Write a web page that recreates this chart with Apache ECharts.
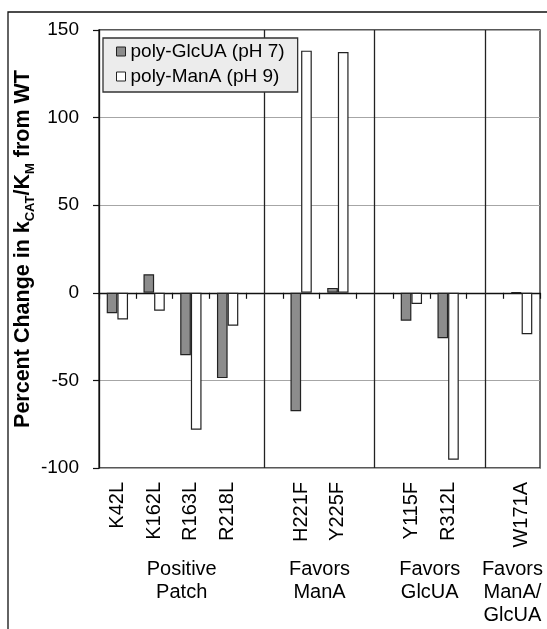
<!DOCTYPE html>
<html><head><meta charset="utf-8">
<script src="https://cdn.jsdelivr.net/npm/echarts@6/dist/echarts.min.js"></script>
<style>html,body{margin:0;padding:0;background:#fff}#c{width:547px;height:629px}</style>
</head><body><div id="c"></div>
<script>
const categories = ['K42L','K162L','R163L','R218L','','H221F','Y225F','','Y115F','R312L','','W171A'];
const glcuaValues = [-11.7, 10.6, -35.6, -48.7, null, -67.6, 2.8, null, -15.9, -25.9, null, 0.3];
const manaValues  = [-15.2, -10.2, -78.2, -18.8, null, 138.2, 137.4, null, -6.4, -95.3, null, -23.7];
const seriesNames = ['poly-GlcUA (pH 7)', 'poly-ManA (pH 9)'];
const yMin = -100, yMax = 150, yInterval = 50;
const separatorPositions = [4.5, 7.5, 10.5];
const groupLabels = ['Positive\nPatch', 'Favors\nManA', 'Favors\nGlcUA', 'Favors\nManA/\nGlcUA'];
const groupSpans = [[0, 4.5], [4.5, 7.5], [7.5, 10.5], [10.5, 12]];

const FONT = 'Arial, "Liberation Sans", sans-serif';
const chart = echarts.init(document.getElementById('c'), null, {renderer: 'canvas'});
const grid = {left: 99, right: 7, top: 30, bottom: 161, show: true, borderColor: '#222', borderWidth: 1.3,
  backgroundColor: 'transparent', containLabel: false, outerBoundsMode: 'none'};

chart.setOption({
  animation: false,
  backgroundColor: '#fff',
  grid: grid,
  legend: {
    data: seriesNames, orient: 'vertical', left: 103, top: 38, z: 20, zlevel: 0,
    backgroundColor: '#ececec', borderColor: '#333', borderWidth: 1.3,
    padding: [1, 13, 3, 13], itemGap: 0, itemWidth: 9, itemHeight: 9, icon: 'rect',
    textStyle: {fontSize: 19, color: '#000', fontFamily: FONT, lineHeight: 25},
    itemStyle: {borderColor: '#222', borderWidth: 1}
  },
  xAxis: [
    {type: 'category', data: categories, position: 'bottom',
     axisLine: {onZero: true, lineStyle: {color: '#111', width: 1.3}},
     axisTick: {show: true, length: 6, inside: false, interval: 0, lineStyle: {color: '#111', width: 1.2}},
     axisLabel: {show: false}, splitLine: {show: false}},
    {type: 'category', data: categories, position: 'bottom',
     axisLine: {show: false, onZero: false}, axisTick: {show: false},
     axisLabel: {show: true, rotate: 90, interval: 0, margin: 14, fontSize: 20, color: '#000', fontFamily: FONT},
     splitLine: {show: false}},
    {type: 'value', min: 0, max: 12, show: false, axisLine: {onZero: false}}
  ],
  yAxis: {
    type: 'value', min: yMin, max: yMax, interval: yInterval,
    name: '{m|Percent Change in k}{s|CAT}{m|/K}{s|M}{m| from WT}',
    nameLocation: 'middle', nameGap: 62, nameRotate: 90, nameMoveOverlap: false,
    nameTextStyle: {
      fontFamily: FONT, fontWeight: 'bold', fontSize: 21.5, color: '#000',
      rich: {
        m: {fontFamily: FONT, fontWeight: 'bold', fontSize: 21.5, color: '#000', lineHeight: 27},
        s: {fontFamily: FONT, fontWeight: 'bold', fontSize: 13, color: '#000', verticalAlign: 'bottom'}
      }
    },
    axisLine: {show: true, lineStyle: {color: '#111', width: 1.3}},
    axisTick: {show: true, length: 6, inside: false, lineStyle: {color: '#111', width: 1.2}},
    axisLabel: {fontSize: 19, color: '#000', margin: 20, fontFamily: FONT},
    splitLine: {show: true, lineStyle: {color: '#a6a6a6', width: 1}}
  },
  series: [
    {name: seriesNames[0], type: 'bar', xAxisIndex: 0, data: glcuaValues,
     barGap: '0%', barCategoryGap: '42%',
     itemStyle: {color: '#8c8c8c', borderColor: '#222', borderWidth: 1.2}},
    {name: seriesNames[1], type: 'bar', xAxisIndex: 0, data: manaValues,
     barGap: '0%', barCategoryGap: '42%',
     itemStyle: {color: '#ffffff', borderColor: '#222', borderWidth: 1.2}},
    {name: 'separators', type: 'line', xAxisIndex: 2, yAxisIndex: 0, data: [], silent: true, z: 1,
     markLine: {symbol: ['none', 'none'], silent: true, label: {show: false}, z: 1,
       lineStyle: {color: '#222', width: 1.3, type: 'solid'},
       data: separatorPositions.map(v => ({xAxis: v}))}}
  ]
});

const gfx = [{
  type: 'rect', shape: {x: 8, y: 12, width: 700, height: 800}, silent: true, z: 0,
  style: {fill: 'none', stroke: '#111', lineWidth: 1.3}
}];
groupSpans.forEach((s, i) => {
  const cx = chart.convertToPixel({xAxisIndex: 2}, (s[0] + s[1]) / 2);
  gfx.push({type: 'text', x: cx, y: 558, silent: true,
    style: {text: groupLabels[i], fontSize: 20, fontFamily: FONT, fill: '#000',
      align: 'center', verticalAlign: 'top', lineHeight: 23}});
});
chart.setOption({graphic: gfx});
</script></body></html>
